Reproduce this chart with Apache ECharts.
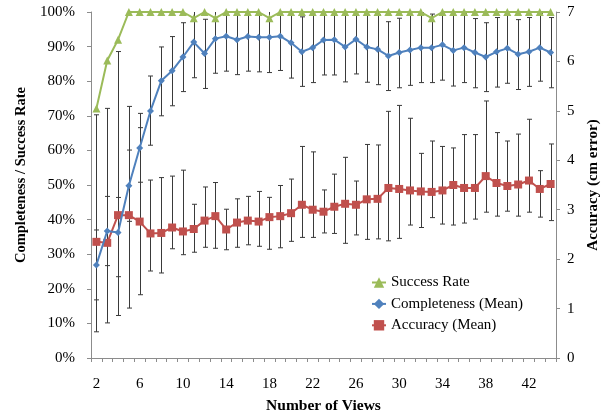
<!DOCTYPE html>
<html>
<head>
<meta charset="utf-8">
<script src="https://cdn.jsdelivr.net/npm/echarts@6/dist/echarts.min.js"></script>
<style>
  html, body { margin: 0; padding: 0; background: #fff; }
  #chart { width: 610px; height: 419px; }
</style>
</head>
<body>
<div id="chart"></div>
<script>
// Number of views (x categories)
const views = [2, 3, 4, 5, 6, 7, 8, 9, 10, 11, 12, 13, 14, 15, 16, 17, 18, 19, 20, 21, 22, 23,
  24, 25, 26, 27, 28, 29, 30, 31, 32, 33, 34, 35, 36, 37, 38, 39, 40, 41, 42, 43, 44];

// Success rate (%)
const successRate = [72.1, 86.0, 92.0, 100, 100, 100, 100, 100, 100, 98.2, 100, 98.2, 100, 100,
  100, 100, 98.2, 100, 100, 100, 100, 100, 100, 100, 100, 100, 100, 100, 100, 100, 100, 98.2,
  100, 100, 100, 100, 100, 100, 100, 100, 100, 100, 100];

// Completeness mean (%) and its error-bar range
const completeness = [26.9, 36.7, 36.3, 49.8, 60.7, 71.4, 80.1, 83.0, 87.0, 91.3, 88.0, 92.3,
  93.0, 92.0, 92.9, 92.7, 92.7, 93.0, 91.1, 88.5, 89.7, 91.9, 92.0, 89.9, 92.1, 89.9, 89.2,
  87.3, 88.3, 89.0, 89.7, 89.7, 90.5, 88.9, 89.7, 88.3, 87.0, 88.5, 89.5, 87.8, 88.5, 89.7, 88.3];
const completenessLow = [16.8, 26.7, 23.5, 39.5, 50.8, 61.5, 70.0, 72.9, 77.0, 81.0, 77.9, 82.3,
  82.9, 81.9, 82.9, 82.7, 82.5, 83.1, 80.9, 78.5, 79.6, 81.8, 81.8, 79.8, 82.1, 79.7, 79.0,
  77.3, 78.1, 78.8, 79.6, 79.6, 80.3, 78.6, 79.6, 78.1, 77.0, 78.3, 79.4, 77.6, 78.5, 80.0, 78.1];
const completenessHigh = [37.0, 46.7, 46.4, 60.1, 70.7, 81.5, 89.9, 92.9, 96.9, 101.6, 97.9, 102.3,
  103.1, 102.1, 102.9, 102.7, 102.9, 102.9, 101.3, 98.6, 99.8, 102.0, 102.2, 100.0, 102.1, 100.1,
  99.2, 97.2, 98.2, 99.0, 99.8, 99.4, 100.7, 99.0, 99.6, 98.1, 96.9, 98.4, 99.3, 97.8, 98.4, 99.6, 98.4];

// Accuracy mean (cm error) and its error-bar range
const accuracy = [2.35, 2.33, 2.89, 2.89, 2.76, 2.52, 2.53, 2.64, 2.56, 2.61, 2.78, 2.87, 2.60,
  2.74, 2.78, 2.76, 2.85, 2.87, 2.93, 3.10, 3.00, 2.96, 3.06, 3.12, 3.10, 3.21, 3.22, 3.44, 3.42,
  3.39, 3.37, 3.36, 3.39, 3.50, 3.44, 3.44, 3.68, 3.54, 3.48, 3.51, 3.59, 3.42, 3.52];
const accuracyLow = [0.53, 0.71, 0.86, 1.01, 1.28, 1.76, 1.72, 2.21, 2.09, 2.14, 2.24, 2.22, 2.19,
  2.24, 2.29, 2.26, 2.20, 2.23, 2.36, 2.44, 2.44, 2.53, 2.52, 2.32, 2.49, 2.40, 2.41, 2.37, 2.42,
  2.69, 2.64, 2.84, 2.71, 2.69, 2.73, 2.81, 2.95, 2.87, 2.97, 2.87, 2.95, 2.85, 2.78];
const accuracyHigh = [4.92, 5.05, 6.20, 5.09, 4.66, 3.60, 3.65, 3.68, 3.80, 3.11, 3.46, 3.55, 3.01,
  3.22, 3.27, 3.37, 3.25, 3.49, 3.62, 4.28, 4.17, 3.40, 3.72, 4.06, 3.58, 4.32, 4.31, 4.99, 5.11,
  4.85, 4.14, 4.39, 4.28, 4.25, 4.52, 4.52, 5.20, 4.56, 4.39, 4.53, 4.83, 3.79, 4.33];

const SERIF = '"Liberation Serif", "Times New Roman", serif';
const BAR_COLOR = '#3a3a3a';

// Vertical error bar with caps; clipped to the plot's top edge
function errorBarItem(params, api) {
  const i = api.value(0);
  const lo = api.coord([i, api.value(1)]);
  const hi = api.coord([i, api.value(2)]);
  const cs = params.coordSys;
  const x = Math.round(lo[0]) + 0.5;
  const yLo = Math.min(lo[1], cs.y + cs.height);
  const clippedTop = hi[1] < cs.y;
  const yHi = clippedTop ? cs.y : hi[1];
  const capW = 2.5;
  const style = { stroke: BAR_COLOR, lineWidth: 1 };
  const children = [
    { type: 'line', shape: { x1: x, y1: yHi, x2: x, y2: yLo }, style },
    { type: 'line', shape: { x1: x - capW, y1: yLo, x2: x + capW, y2: yLo }, style }
  ];
  if (!clippedTop) {
    children.push({ type: 'line', shape: { x1: x - capW, y1: yHi, x2: x + capW, y2: yHi }, style });
  }
  return { type: 'group', children };
}

const chart = echarts.init(document.getElementById('chart'), null, { renderer: 'canvas' });

chart.setOption({
  animation: false,
  backgroundColor: '#fff',
  textStyle: { fontFamily: SERIF, color: '#000' },
  grid: { left: 91, right: 54, top: 12, bottom: 60, containLabel: false },
  legend: {
    orient: 'vertical',
    left: 366,
    top: 270,
    itemGap: 6.4,
    itemWidth: 14,
    itemHeight: 13,
    textStyle: { fontFamily: SERIF, fontSize: 15, color: '#000' },
    data: ['Success Rate', 'Completeness (Mean)', 'Accuracy (Mean)']
  },
  xAxis: {
    type: 'category',
    data: views.map(String),
    boundaryGap: true,
    name: 'Number of Views',
    nameLocation: 'middle',
    nameGap: 40,
    nameTextStyle: { fontFamily: SERIF, fontSize: 15.5, fontWeight: 'bold', color: '#000' },
    axisLine: { lineStyle: { color: '#8c8c8c' } },
    axisTick: { show: true, interval: 0, alignWithLabel: false, length: 4, lineStyle: { color: '#8c8c8c' } },
    axisLabel: { interval: 3, margin: 19, fontFamily: SERIF, fontSize: 15, color: '#000' },
    splitLine: { show: false }
  },
  yAxis: [
    {
      type: 'value',
      min: 0, max: 100, interval: 10,
      name: 'Completeness / Success Rate',
      nameLocation: 'middle',
      nameRotate: 90,
      nameGap: 60,
      nameTextStyle: {
        fontFamily: SERIF, fontSize: 14.5, fontWeight: 'bold', color: '#000',
        padding: [0, 0, 0, 20]
      },
      axisLine: { show: true, lineStyle: { color: '#8c8c8c' } },
      axisTick: { show: true, length: 4, lineStyle: { color: '#8c8c8c' } },
      axisLabel: { formatter: '{value}%', margin: 16, fontFamily: SERIF, fontSize: 15, color: '#000' },
      splitLine: { show: false }
    },
    {
      type: 'value',
      position: 'right',
      min: 0, max: 7, interval: 1,
      name: 'Accuracy (cm error)',
      nameLocation: 'middle',
      nameRotate: 90,
      nameGap: 27,
      nameTextStyle: { fontFamily: SERIF, fontSize: 15, fontWeight: 'bold', color: '#000' },
      axisLine: { show: true, lineStyle: { color: '#8c8c8c' } },
      axisTick: { show: true, length: 4, lineStyle: { color: '#8c8c8c' } },
      axisLabel: { margin: 11, fontFamily: SERIF, fontSize: 15, color: '#000' },
      splitLine: { show: false }
    }
  ],
  series: [
    {
      name: 'Completeness error',
      type: 'custom',
      yAxisIndex: 0,
      z: 1,
      renderItem: errorBarItem,
      encode: { x: 0, y: [1, 2] },
      data: views.map((v, i) => [i, completenessLow[i], completenessHigh[i]])
    },
    {
      name: 'Accuracy error',
      type: 'custom',
      yAxisIndex: 1,
      z: 1,
      renderItem: errorBarItem,
      encode: { x: 0, y: [1, 2] },
      data: views.map((v, i) => [i, accuracyLow[i], accuracyHigh[i]])
    },
    {
      name: 'Accuracy (Mean)',
      type: 'line',
      yAxisIndex: 1,
      z: 3,
      data: accuracy,
      symbol: 'rect',
      symbolSize: 8,
      showAllSymbol: true,
      color: '#C0504D',
      lineStyle: { width: 2, color: '#C0504D' },
      itemStyle: { color: '#C0504D' }
    },
    {
      name: 'Completeness (Mean)',
      type: 'line',
      yAxisIndex: 0,
      z: 4,
      data: completeness,
      symbol: 'diamond',
      symbolSize: 7,
      showAllSymbol: true,
      color: '#4F81BD',
      lineStyle: { width: 2, color: '#4F81BD' },
      itemStyle: { color: '#4F81BD' }
    },
    {
      name: 'Success Rate',
      type: 'line',
      yAxisIndex: 0,
      z: 5,
      data: successRate,
      symbol: 'triangle',
      symbolSize: 8,
      showAllSymbol: true,
      color: '#9BBB59',
      lineStyle: { width: 2, color: '#9BBB59' },
      itemStyle: { color: '#9BBB59' }
    }
  ]
});
</script>
</body>
</html>
